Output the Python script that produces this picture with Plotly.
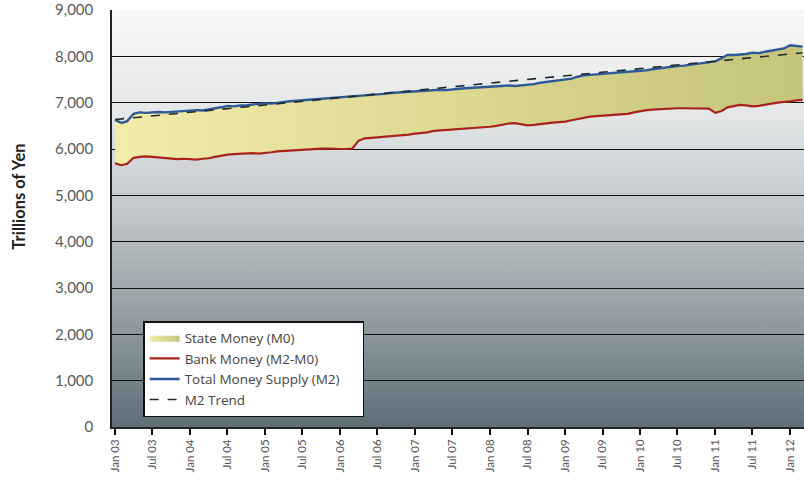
import base64
import numpy as np
import pandas as pd
import plotly.graph_objects as go

# monthly values, Jan 2003 - Mar 2012 (trillions of yen, as labelled)
m2_total = [
    6630, 6560, 6600, 6760, 6790, 6780, 6790, 6800, 6790, 6800, 6810, 6820,
    6830, 6840, 6830, 6850, 6870, 6900, 6930, 6920, 6940, 6940, 6960, 6970,
    6990, 6980, 7000, 7010, 7030, 7040, 7050, 7060, 7070, 7080, 7090, 7110,
    7120, 7130, 7140, 7150, 7150, 7170, 7180, 7190, 7210, 7220, 7230, 7240,
    7255, 7250, 7260, 7270, 7280, 7270, 7290, 7300, 7310, 7320, 7330, 7340,
    7345, 7350, 7360, 7370, 7360, 7370, 7380, 7400, 7430, 7450, 7470, 7480,
    7495, 7520, 7560, 7590, 7600, 7610, 7620, 7630, 7640, 7650, 7660, 7670,
    7690, 7700, 7720, 7740, 7750, 7770, 7790, 7800, 7820, 7830, 7850, 7870,
    7890, 7960, 8030, 8030, 8040, 8050, 8080, 8070, 8100, 8120, 8140, 8170,
    8240, 8230, 8210,
]
bank_money = [
    5690, 5650, 5680, 5810, 5830, 5840, 5830, 5820, 5800, 5790, 5780, 5790,
    5780, 5770, 5790, 5800, 5830, 5860, 5880, 5890, 5900, 5900, 5910, 5900,
    5910, 5930, 5950, 5960, 5970, 5980, 5990, 6000, 6010, 6010, 6010, 6000,
    6000, 6000, 6010, 6180, 6230, 6240, 6250, 6260, 6270, 6280, 6290, 6310,
    6330, 6340, 6360, 6390, 6400, 6400, 6410, 6420, 6440, 6450, 6460, 6470,
    6480, 6500, 6530, 6550, 6560, 6540, 6510, 6520, 6540, 6560, 6570, 6580,
    6590, 6620, 6650, 6680, 6700, 6710, 6720, 6730, 6735, 6740, 6760, 6790,
    6820, 6840, 6850, 6860, 6870, 6875, 6880, 6880, 6880, 6880, 6870, 6870,
    6780, 6820, 6900, 6920, 6950, 6940, 6920, 6930, 6960, 6980, 7000, 7010,
    7030, 7050, 7060,
]
months = pd.date_range("2003-01-01", periods=len(m2_total), freq="MS")

# linear trend of M2
idx = np.arange(len(m2_total))
trend = np.polyval(np.polyfit(idx, m2_total, 1), idx)

X_START, X_END = "2002-12-17", "2012-03-08"
FONT = "Lato"
PAD = "\u00a0" * 5  # widens the legend box a little

# vertical grey gradient behind the plot, under the gridlines
svg = (
    '<svg xmlns="http://www.w3.org/2000/svg" width="10" height="100" viewBox="0 0 10 100" '
    'preserveAspectRatio="none"><defs><linearGradient id="g" x1="0" y1="0" x2="0" y2="1">'
    '<stop offset="0" stop-color="#f8f8f8"/><stop offset="0.25" stop-color="#e4e6e7"/>'
    '<stop offset="0.5" stop-color="#bec4c7"/><stop offset="0.75" stop-color="#909ba1"/>'
    '<stop offset="1" stop-color="#5e6e77"/></linearGradient></defs>'
    '<rect width="10" height="100" fill="url(#g)"/></svg>'
)
bg_src = "data:image/svg+xml;base64," + base64.b64encode(svg.encode()).decode()

fig = go.Figure()

# base for the M0 band (red line values)
fig.add_trace(go.Scatter(x=months, y=bank_money, mode="lines", line=dict(width=0),
                         showlegend=False, hoverinfo="skip"))
fig.add_trace(go.Scatter(
    x=months, y=m2_total, mode="lines", line=dict(width=0), fill="tonexty",
    fillcolor="#ddd897",
    fillgradient=dict(type="horizontal",
                      colorscale=[[0, "#f1ecaa"], [0.5, "#dcd791"], [1, "#c4c47a"]]),
    name="State Money (M0)",
))
fig.add_trace(go.Scatter(x=months, y=bank_money, mode="lines",
                         line=dict(color="#a8231b", width=2.2),
                         name="Bank Money (M2-M0)"))
fig.add_trace(go.Scatter(x=months, y=m2_total, mode="lines",
                         line=dict(color="#2d5a96", width=2.4),
                         name="Total Money Supply (M2)" + PAD))
fig.add_trace(go.Scatter(x=months, y=trend, mode="lines",
                         line=dict(color="#1e2a30", width=1.6, dash="dash"),
                         name="M2 Trend"))

fig.update_layout(
    width=804, height=491,
    margin=dict(l=112, r=0, t=10, b=64),
    paper_bgcolor="white",
    plot_bgcolor="rgba(0,0,0,0)",
    font=dict(family=FONT, color="#555555"),
    images=[dict(source=bg_src, xref="paper", yref="paper", x=0, y=1,
                 sizex=1, sizey=1, sizing="stretch", layer="below",
                 xanchor="left", yanchor="top")],
    legend=dict(
        x=0.045, y=0.254, xanchor="left", yanchor="top",
        traceorder="normal",
        bgcolor="white", bordercolor="#111111", borderwidth=1.5,
        font=dict(family="Open Sans", size=13.5, color="#444444"),
        tracegroupgap=0, itemwidth=30,
    ),
    showlegend=True,
    annotations=[dict(
        text="<b>Trillions of Yen</b>", textangle=-90,
        xref="paper", yref="paper", x=-0.134, y=0.553,
        xanchor="center", yanchor="middle", showarrow=False,
        font=dict(family=FONT, size=16.5, color="#222222"),
    )],
)

fig.update_xaxes(
    type="date", range=[X_START, X_END], automargin=False,
    tick0="2003-01-01", dtick="M6", tickformat="%b %y",
    tickangle=-90, ticks="outside", ticklen=6, tickwidth=1.5, tickcolor="#111111",
    tickfont=dict(family=FONT, size=11.5, color="#555555"),
    showgrid=False, showline=True, linecolor="#222222", linewidth=1.5,
    zeroline=False,
)
fig.update_yaxes(
    range=[0, 9000], dtick=1000, tickformat=",", automargin=False,
    tickfont=dict(family=FONT, size=15, color="#5a5a5a"),
    ticks="", ticklabelstandoff=14,
    showgrid=True, gridcolor="#111111", gridwidth=1.2,
    showline=True, linecolor="#222222", linewidth=1.5, zeroline=False,
)

# drop the default 8px page margin so the figure sits at the window corner
fig.write_html("out.html", config={"displayModeBar": False},
               post_script="document.body.style.margin='0';")
